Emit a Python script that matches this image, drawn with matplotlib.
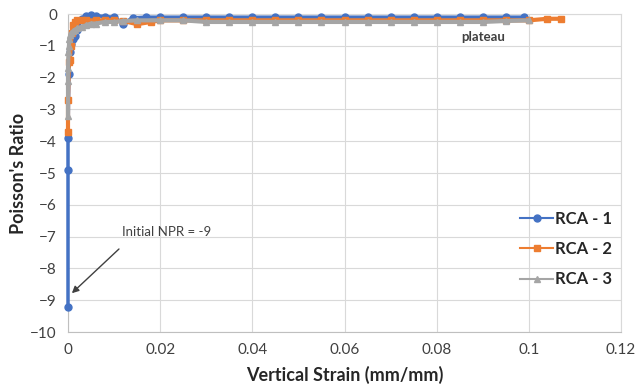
import matplotlib
matplotlib.use("Agg")
import matplotlib.pyplot as plt
from matplotlib.lines import Line2D

plt.rcParams['font.family'] = ['Lato', 'DejaVu Sans']

# series values
rca1_x = [0.0, 0.0, 0.0, 0.0002, 0.0004, 0.0007, 0.001, 0.0015, 0.002, 0.003,
          0.004, 0.005, 0.006, 0.008, 0.01, 0.012, 0.014, 0.017, 0.02, 0.025,
          0.03, 0.035, 0.04, 0.045, 0.05, 0.055, 0.06, 0.065, 0.07, 0.075,
          0.08, 0.085, 0.09, 0.095, 0.099]
rca1_y = [-9.2, -4.9, -3.9, -1.9, -1.2, -0.95, -0.8, -0.7, -0.5, -0.15,
          -0.05, -0.02, -0.05, -0.08, -0.1, -0.3, -0.12, -0.1, -0.1, -0.1,
          -0.1, -0.1, -0.1, -0.1, -0.1, -0.1, -0.1, -0.1, -0.1, -0.1,
          -0.1, -0.1, -0.1, -0.1, -0.1]

rca2_x = [0.0, 0.0, 0.0002, 0.0004, 0.0006, 0.0008, 0.001, 0.0015, 0.002, 0.003,
          0.004, 0.006, 0.008, 0.01, 0.012, 0.015, 0.018, 0.02, 0.025, 0.03,
          0.035, 0.04, 0.045, 0.05, 0.055, 0.06, 0.065, 0.07, 0.075, 0.08,
          0.085, 0.09, 0.095, 0.1, 0.104, 0.107]
rca2_y = [-3.7, -2.7, -1.5, -1.45, -1.0, -0.6, -0.35, -0.25, -0.2, -0.2,
          -0.2, -0.2, -0.2, -0.2, -0.22, -0.32, -0.25, -0.2, -0.2, -0.2,
          -0.2, -0.2, -0.2, -0.2, -0.2, -0.2, -0.2, -0.2, -0.2, -0.2,
          -0.2, -0.2, -0.2, -0.2, -0.15, -0.15]

rca3_x = [0.0, 0.0, 0.0, 0.0001, 0.0002, 0.0003, 0.0005, 0.0007, 0.001, 0.0015,
          0.002, 0.003, 0.004, 0.005, 0.006, 0.008, 0.01, 0.012, 0.015, 0.02,
          0.025, 0.03, 0.035, 0.04, 0.045, 0.05, 0.055, 0.06, 0.065, 0.07,
          0.075, 0.08, 0.085, 0.09, 0.095, 0.1]
rca3_y = [-3.2, -2.1, -1.7, -1.2, -1.0, -0.8, -0.65, -0.6, -0.55, -0.5,
          -0.45, -0.4, -0.35, -0.3, -0.3, -0.25, -0.25, -0.22, -0.2, -0.2,
          -0.2, -0.25, -0.25, -0.25, -0.25, -0.25, -0.25, -0.25, -0.25, -0.25,
          -0.25, -0.25, -0.25, -0.25, -0.22, -0.2]

x_ticks = [0, 0.02, 0.04, 0.06, 0.08, 0.1, 0.12]
x_labels = ['0', '0.02', '0.04', '0.06', '0.08', '0.1', '0.12']
y_ticks = list(range(-10, 1))


def main():
    fig = plt.figure(figsize=(6.37, 3.92), dpi=100)
    ax = fig.add_axes([68 / 637, 60 / 392, 553 / 637, 318 / 392])

    ax.plot(rca1_x, rca1_y, color='#4472C4', marker='o', markersize=5,
            linewidth=2.5, zorder=3, clip_on=False)
    ax.plot(rca2_x, rca2_y, color='#ED7D31', marker='s', markersize=5,
            linewidth=3, zorder=4, clip_on=False)
    ax.plot(rca3_x, rca3_y, color='#A5A5A5', marker='^', markersize=5,
            linewidth=3, zorder=5, clip_on=False)

    ax.set_xlim(0, 0.12)
    ax.set_ylim(-10, 0)
    ax.set_xticks(x_ticks)
    ax.set_xticklabels(x_labels)
    ax.set_yticks(y_ticks)
    ax.tick_params(length=0, labelsize=11, colors='#404040', pad=8)
    ax.grid(True, color='#D9D9D9', linewidth=0.8)
    ax.set_axisbelow(True)
    for side in ['top', 'right']:
        ax.spines[side].set_color('#D9D9D9')
    for side in ['left', 'bottom']:
        ax.spines[side].set_color('#BFBFBF')

    ax.set_xlabel("Vertical Strain (mm/mm)", fontsize=13, fontweight='bold',
                  color='#262626', labelpad=6)
    ax.set_ylabel("Poisson's Ratio", fontsize=13, fontweight='bold',
                  color='#262626', labelpad=2)

    ax.text(0.09, -0.72, "plateau", fontsize=9.5, color='#404040',
            fontweight='bold', ha='center', va='center')
    ax.text(0.0117, -6.86, "Initial NPR = -9", fontsize=9.5, color='#404040',
            ha='left', va='center')
    ax.annotate("", xy=(0.0004, -8.84), xytext=(0.0115, -7.33),
                arrowprops=dict(arrowstyle='-|>', color='#404040', lw=1))

    handles = [
        Line2D([], [], color='#4472C4', marker='o', markersize=5, lw=1.5),
        Line2D([], [], color='#ED7D31', marker='s', markersize=5, lw=1.5),
        Line2D([], [], color='#A5A5A5', marker='^', markersize=5, lw=1.5),
    ]
    leg = ax.legend(handles, ['RCA - 1', 'RCA - 2', 'RCA - 3'],
                    loc='center left', bbox_to_anchor=(0.79, 0.26),
                    frameon=False, fontsize=12, handlelength=2.0,
                    handletextpad=0.1, labelspacing=0.85)
    for t in leg.get_texts():
        t.set_fontweight('bold')
        t.set_color('#262626')

    fig.savefig("out.png", dpi=100)


if __name__ == "__main__":
    main()
